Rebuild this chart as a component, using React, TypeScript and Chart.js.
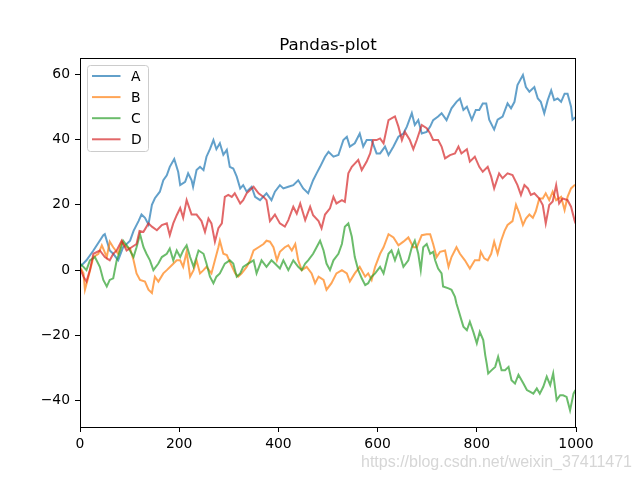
import React, { useEffect, useRef } from "react";
import { Chart, registerables } from "chart.js";

Chart.register(...registerables);

const TITLE = "Pandas-plot";
const SERIES_NAMES = ["A", "B", "C", "D"];
const SERIES_COLORS = [
  "rgba(31,119,180,0.7)",
  "rgba(255,127,14,0.7)",
  "rgba(44,160,44,0.7)",
  "rgba(214,39,40,0.7)",
];
const X_TICKS = [0, 200, 400, 600, 800, 1000];
const Y_TICKS = [-40, -20, 0, 20, 40, 60];
const WATERMARK = "https://blog.csdn.net/weixin_37411471";

// [index, value] pairs
const seriesA: [number, number][] = [
  [0, 1], [13, 3], [27, 6], [47, 10.7], [50, 11], [60, 6], [67, 5], [77, 3], [87, 7], [101, 9],
  [108, 12], [118, 15], [124, 17], [131, 16], [138, 14], [145, 20], [151, 22], [161, 24], [168, 27.5],
  [175, 29], [181, 31.6], [190, 34], [198, 30],
  [202, 26], [212, 27], [218, 29.6], [225, 27.5], [228, 25.5], [235, 30.6], [242, 31.6], [249, 30.6],
  [255, 34.7], [262, 37], [269, 39.8], [275, 37], [282, 38.8], [289, 35.3], [296, 36.8], [302, 31.6],
  [309, 31.1], [316, 28.6], [323, 25], [329, 26], [336, 24], [346, 25.5], [353, 22.4], [363, 21.4],
  [376, 23.5], [386, 21.4], [393, 24],
  [403, 26], [410, 25], [420, 25.5], [430, 26], [440, 27.5], [450, 25], [460, 23.5], [470, 27.5],
  [477, 29.6], [484, 31.6], [494, 34.7], [501, 36.2], [511, 34.7], [521, 35.2], [531, 39.8], [538, 40.8],
  [544, 37.8], [554, 38.8], [564, 41.8], [571, 37.8], [578, 39.8], [588, 39.8], [598, 35.7],
  [605, 35.7], [615, 37.8], [622, 35.2], [632, 37.8], [642, 40.8], [652, 41.8], [659, 43.9], [669, 48],
  [675, 44.4], [682, 45.9], [689, 41.8], [699, 42.3], [706, 43.9], [712, 45.9], [722, 47], [729, 48],
  [739, 45.9], [749, 49.5], [759, 51.5], [766, 52.5], [773, 49], [780, 50], [790, 46],
  [798, 49], [805, 49], [812, 51], [819, 51], [825, 46], [835, 43], [842, 46], [852, 47], [862, 51],
  [869, 49.5], [876, 51.5], [882, 56.6], [893, 59.7], [899, 56], [906, 54.6], [916, 56], [923, 52.5],
  [929, 51.5], [936, 48], [943, 52], [950, 55], [956, 52], [963, 52.5], [970, 51.5], [977, 54],
  [983, 54], [990, 50], [993, 46], [999, 46.8],
];

const seriesB: [number, number][] = [
  [0, 1], [7, -1], [10, -6], [17, -2], [27, 4], [37, 5], [44, 7.6], [54, 4], [60, 8.7], [67, 7],
  [77, 5], [84, 8.7], [94, 7], [101, 6.6], [108, 3], [114, -1], [121, -3], [131, -3.5], [138, -6],
  [145, -7], [151, -2], [158, -3.5], [168, -1], [175, 0], [185, 1.5], [195, 3],
  [202, 3], [208, 1], [215, 5.6], [222, -2], [229, 0], [235, 3], [242, -1], [249, 0], [255, 1],
  [265, -1], [272, 3], [279, 7], [282, 9], [289, 5], [296, 4.6], [302, 2.5], [313, -1], [319, -2],
  [326, -1], [336, 1], [343, 3], [350, 6], [360, 7], [370, 8], [376, 9], [383, 8.7], [390, 7], [397, 3],
  [403, 5.6], [413, 7], [420, 7.6], [427, 6], [434, 8], [440, 3], [447, 0], [457, 1], [467, -1],
  [474, -4], [481, -2], [491, -3], [497, -6], [507, -4], [517, -1], [528, 0], [538, -1], [544, -3.5],
  [554, -1], [564, 1], [575, -2], [581, -1], [588, -3], [595, 1],
  [605, 5], [612, 7], [622, 11], [632, 10], [642, 7.6], [652, 8.7], [662, 10], [672, 7], [679, 7],
  [689, 10.7], [699, 11], [706, 11], [712, 8], [719, 4], [726, 5.6], [736, 6], [743, 1], [749, 4],
  [759, 7], [766, 5], [776, 3], [786, 0.5], [796, 3],
  [805, 3], [808, 5.6], [815, 3.6], [822, 3], [829, 5], [835, 8.7], [842, 5], [849, 9], [856, 12],
  [862, 13.8], [872, 15], [879, 20], [886, 17.3], [893, 13.8], [899, 15.8], [906, 17], [913, 16],
  [919, 18], [926, 21.9], [933, 21.9], [939, 23.5], [946, 21.4], [953, 24], [960, 21.4], [970, 22.4],
  [977, 18.4], [983, 22.4], [990, 25], [997, 26], [999, 26],
];

const seriesC: [number, number][] = [
  [0, 2], [7, 1], [13, 0], [20, 3], [30, 4], [40, 1], [47, -3], [54, -5], [60, -3], [67, -2.5],
  [74, 3], [81, 6], [87, 9], [97, 7], [108, 4], [114, 7], [121, 11], [128, 7], [134, 5], [141, 3],
  [148, 0], [158, 2], [165, 4], [175, 5], [181, 6.6], [188, 3], [195, 6],
  [202, 4], [208, 6], [215, 7.6], [222, 4], [229, 1], [239, 6], [249, 5], [255, 2], [262, -2],
  [269, -4], [275, -2], [282, -1], [292, 2], [302, 3], [309, 2], [316, -2], [323, -1], [329, 1],
  [339, 2], [350, 3], [356, -1], [366, 3], [376, 1], [386, 3], [393, 2],
  [403, 0.5], [410, 3], [420, 0], [430, 3], [440, 1], [447, 0], [454, 2], [460, 3], [470, 5],
  [477, 7], [484, 9], [491, 6], [497, 2], [504, 0], [511, 3], [521, 5], [528, 8], [534, 13.3],
  [541, 14.3], [548, 10.2], [554, 4], [561, 0], [568, -2.5], [575, -4.6], [581, -4], [588, -2], [595, -1],
  [605, 1], [612, -1], [622, 5], [628, 6], [635, 3], [642, 6], [652, 1], [662, 3], [669, 7], [675, 9],
  [682, 5], [687, 0], [692, 7], [699, 8], [706, 5],
  [712, 5.6], [716, 3], [722, 0.5], [729, -1], [732, -5], [743, -5.6], [749, -6], [756, -8.2],
  [759, -10.2], [763, -12.2], [769, -15.3], [773, -17.3], [780, -18.4], [786, -15.8], [793, -18.9],
  [800, -22.4], [806, -18.9], [813, -21.4], [817, -26], [820, -28.6], [823, -31.6], [830, -30.6],
  [837, -29.6], [843, -26.5], [850, -30.6], [857, -30.6], [864, -29.6], [870, -33.7], [877, -34.7],
  [884, -32], [894, -34.7], [901, -36.7], [907, -37.2], [914, -37.8], [921, -36.2], [927, -37.8],
  [934, -35.7], [941, -32.6], [948, -35.2], [954, -31.6], [961, -39.8], [968, -38.3], [974, -38.3],
  [981, -38.8], [988, -42.9], [995, -37.8], [999, -36.7],
];

const seriesD: [number, number][] = [
  [0, 0.5], [7, -2], [13, -3.5], [20, 0], [27, 5], [40, 6], [50, 4], [60, 3], [67, 5], [74, 6],
  [84, 9], [94, 6], [104, 7], [114, 8], [120, 12], [128, 11.7], [138, 14.3], [145, 13.3], [155, 12.2],
  [165, 13.8], [175, 14.3], [181, 10.7], [188, 14.3], [195, 16.8],
  [202, 19], [208, 16], [215, 21.4], [225, 17], [235, 17], [245, 15], [252, 11.7], [259, 15.8],
  [265, 14.3], [272, 8.7], [279, 12.8], [286, 14.3], [292, 22.4], [299, 23], [306, 22.4], [312, 23.5],
  [323, 20.4], [329, 21.4], [336, 23.5], [343, 24.5], [350, 25.5], [360, 23.5], [370, 22.4],
  [376, 21.4], [383, 15], [393, 17],
  [403, 14.3], [413, 13.3], [420, 15.3], [430, 19.4], [437, 17.3], [444, 20.4], [454, 15.3],
  [464, 19.4], [470, 16.8], [481, 15], [487, 12.8], [494, 17], [504, 18.9], [511, 22.4], [517, 20.4],
  [528, 21.4], [534, 20.9], [541, 29.6], [548, 31.6], [554, 32.6], [561, 33.7], [568, 30.6],
  [578, 33.2], [585, 35.7], [591, 39.8], [598, 39.8],
  [605, 40.3], [612, 38.8], [622, 45.9], [628, 46.4], [635, 47], [642, 43.9], [649, 39.8], [655, 42.3],
  [665, 39.8], [672, 37], [679, 39.8], [689, 44.4], [699, 43.4], [706, 41.8], [712, 39.8], [722, 39.8],
  [729, 37.8], [736, 34.2], [746, 35.2], [756, 35.7], [763, 37.8], [769, 35.7], [780, 37], [786, 33.2],
  [796, 34.7],
  [805, 31.6], [812, 30.1], [822, 31.6], [829, 28.6], [835, 25], [845, 29.6], [852, 28.1], [862, 29.6],
  [872, 29.1], [882, 26], [889, 23], [896, 26], [903, 25], [909, 23], [916, 23.5], [926, 21.9],
  [933, 19.9], [939, 14.3], [946, 19.9], [953, 21], [960, 26], [966, 20.4], [973, 21.9], [983, 21.4],
  [990, 19.4], [997, 15.3], [999, 14.3],
];

const ALL_SERIES = [seriesA, seriesB, seriesC, seriesD];

const FONT = "'DejaVu Sans', sans-serif";

const decorPlugin = {
  id: "decor",
  afterDraw(chart: any) {
    const { ctx, chartArea } = chart;
    const { left, right, top, bottom } = chartArea;
    ctx.save();
    // axes frame
    ctx.strokeStyle = "#000";
    ctx.lineWidth = 1;
    ctx.strokeRect(Math.round(left) + 0.5, Math.round(top) + 0.5, Math.round(right - left) - 1, Math.round(bottom - top));
    // title
    ctx.fillStyle = "#000";
    ctx.font = `16.7px ${FONT}`;
    ctx.textAlign = "center";
    ctx.textBaseline = "alphabetic";
    ctx.fillText(TITLE, (left + right) / 2, top - 8);
    // legend
    const lx = left + 7.5;
    const ly = top + 7.5;
    const lw = 61;
    const lh = 86;
    const r = 3;
    ctx.beginPath();
    ctx.moveTo(lx + r, ly);
    ctx.lineTo(lx + lw - r, ly);
    ctx.quadraticCurveTo(lx + lw, ly, lx + lw, ly + r);
    ctx.lineTo(lx + lw, ly + lh - r);
    ctx.quadraticCurveTo(lx + lw, ly + lh, lx + lw - r, ly + lh);
    ctx.lineTo(lx + r, ly + lh);
    ctx.quadraticCurveTo(lx, ly + lh, lx, ly + lh - r);
    ctx.lineTo(lx, ly + r);
    ctx.quadraticCurveTo(lx, ly, lx + r, ly);
    ctx.closePath();
    ctx.fillStyle = "rgba(255,255,255,0.8)";
    ctx.fill();
    ctx.strokeStyle = "#cccccc";
    ctx.stroke();
    ctx.font = `13.9px ${FONT}`;
    ctx.textAlign = "left";
    ctx.textBaseline = "middle";
    SERIES_NAMES.forEach((name, k) => {
      const y = top + 18 + k * 21.1;
      ctx.strokeStyle = SERIES_COLORS[k];
      ctx.lineWidth = 2;
      ctx.beginPath();
      ctx.moveTo(left + 12, y);
      ctx.lineTo(left + 40.5, y);
      ctx.stroke();
      ctx.fillStyle = "#000";
      ctx.fillText(name, left + 51, y + 1);
    });
    // watermark
    ctx.font = "16px 'Liberation Sans', Arial, sans-serif";
    ctx.textAlign = "right";
    ctx.textBaseline = "alphabetic";
    ctx.fillStyle = "rgba(200,200,200,0.75)";
    ctx.fillText(WATERMARK, 632, 467);
    ctx.restore();
  },
};

const fmtTick = (v: any) => {
  const n = Number(v);
  return n < 0 ? "\u2212" + String(Math.abs(n)) : String(n);
};

export default function App() {
  const canvasRef = useRef<HTMLCanvasElement | null>(null);

  useEffect(() => {
    if (!canvasRef.current) return;
    const chart = new Chart(canvasRef.current, {
      type: "line",
      data: {
        datasets: ALL_SERIES.map((s, k) => ({
          label: SERIES_NAMES[k],
          data: s.map(([x, y]) => ({ x, y })),
          borderColor: SERIES_COLORS[k],
          backgroundColor: SERIES_COLORS[k],
          borderWidth: 2,
          pointRadius: 0,
          tension: 0,
          fill: false,
          order: 3 - k,
        })),
      },
      options: {
        animation: false,
        responsive: true,
        maintainAspectRatio: false,
        events: [],
        layout: { padding: { left: 0, right: 64, top: 58, bottom: 0 } },
        plugins: {
          legend: { display: false },
          title: { display: false },
          tooltip: { enabled: false },
        },
        scales: {
          x: {
            type: "linear",
            min: 0,
            max: 1000,
            afterBuildTicks: (scale: any) => {
              scale.ticks = X_TICKS.map((v) => ({ value: v }));
            },
            afterFit: (scale: any) => {
              scale.height = 53;
            },
            grid: { drawOnChartArea: false, drawTicks: true, tickLength: 5, color: "#000", lineWidth: 1 },
            border: { display: false },
            ticks: { color: "#000", font: { family: FONT, size: 13.9 }, padding: 4, maxRotation: 0, callback: fmtTick },
          },
          y: {
            type: "linear",
            min: -48,
            max: 64.9,
            afterBuildTicks: (scale: any) => {
              scale.ticks = Y_TICKS.map((v) => ({ value: v }));
            },
            afterFit: (scale: any) => {
              scale.width = 80;
            },
            grid: { drawOnChartArea: false, drawTicks: true, tickLength: 5, color: "#000", lineWidth: 1 },
            border: { display: false },
            ticks: { color: "#000", font: { family: FONT, size: 13.9 }, padding: 5, callback: fmtTick },
          },
        },
      },
      plugins: [decorPlugin],
    });
    return () => chart.destroy();
  }, []);

  return (
    <div style={{ position: "fixed", left: 0, top: 0, width: 640, height: 480, background: "#fff" }}>
      <canvas ref={canvasRef} width={640} height={480} />
    </div>
  );
}
